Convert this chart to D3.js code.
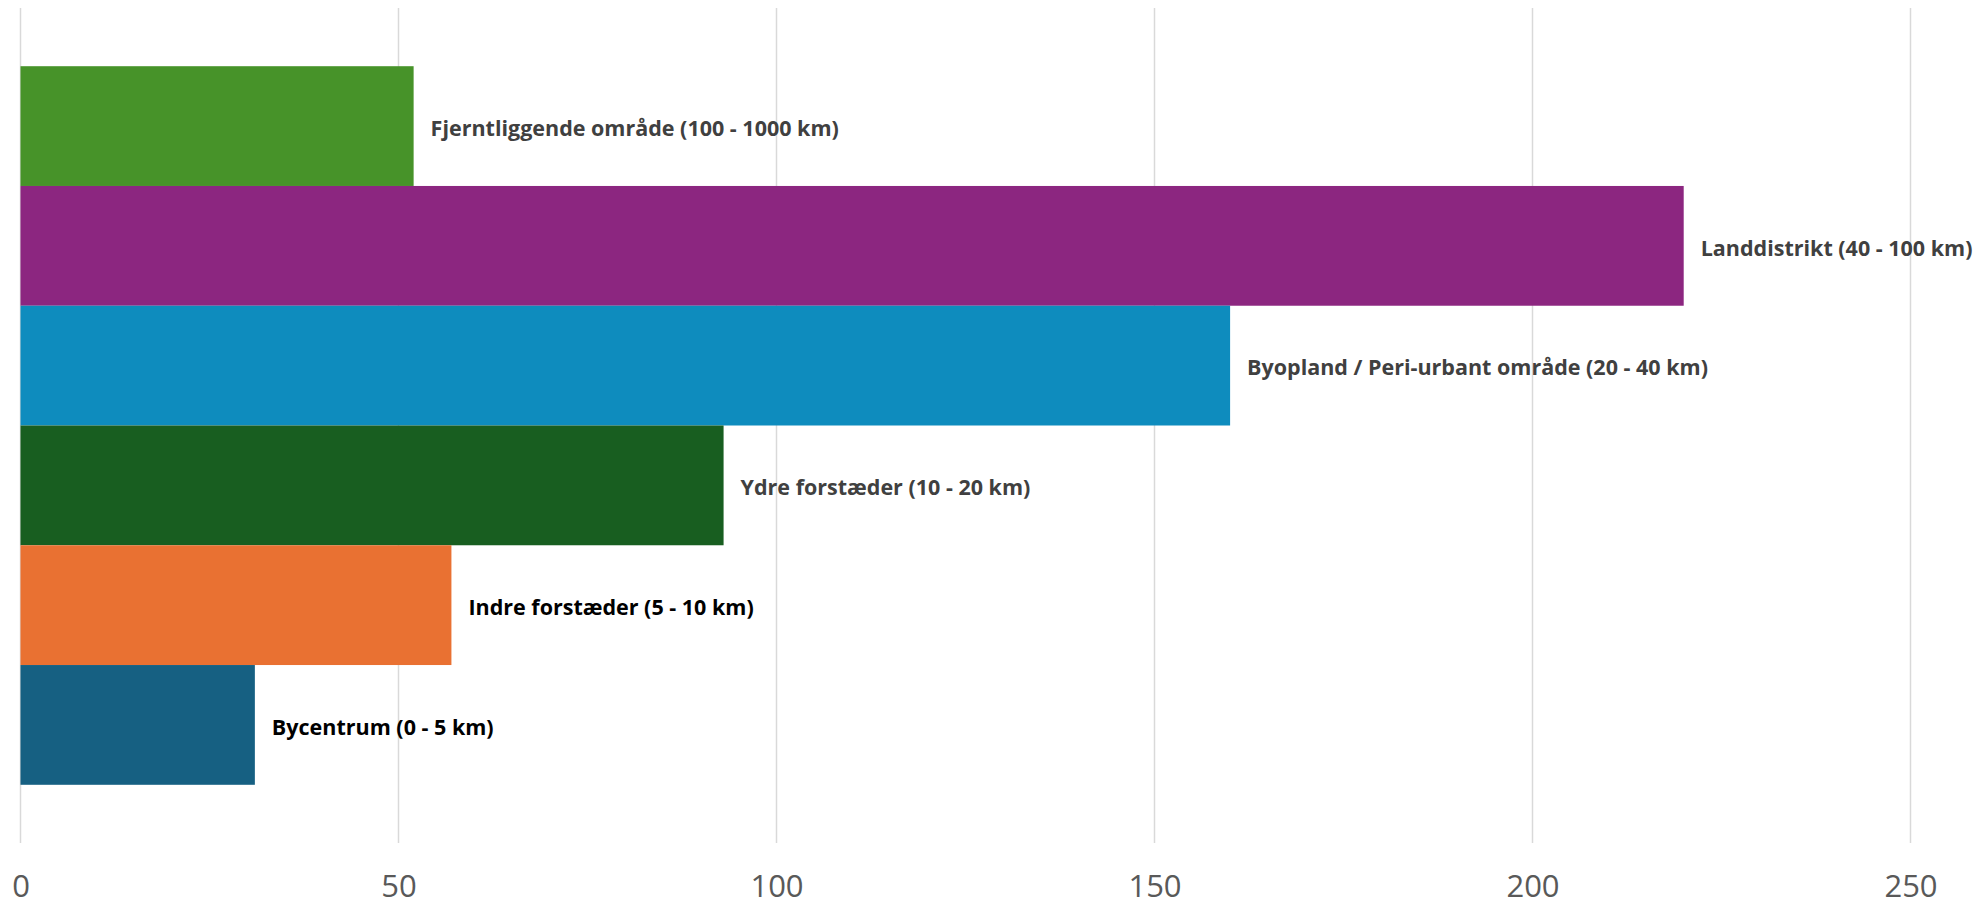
<!DOCTYPE html>
<html>
<head>
<meta charset="utf-8">
<script src="https://cdn.jsdelivr.net/npm/d3@7"></script>
<style>
  html, body { margin: 0; padding: 0; background: #ffffff; }
  svg { display: block; }
</style>
</head>
<body>
<svg id="chart" width="1988" height="906"></svg>
<script>
// Zones, listed top to bottom as drawn
const categories = [
  "Fjerntliggende område (100 - 1000 km)",
  "Landdistrikt (40 - 100 km)",
  "Byopland / Peri-urbant område (20 - 40 km)",
  "Ydre forstæder (10 - 20 km)",
  "Indre forstæder (5 - 10 km)",
  "Bycentrum (0 - 5 km)"
];
const values = [52, 220, 160, 93, 57, 31];
const barColors = ["#479329", "#8c2680", "#0e8cbe", "#185e20", "#e97132", "#166082"];
const labelColors = ["#404040", "#404040", "#404040", "#404040", "#000000", "#000000"];
const tickValues = [0, 50, 100, 150, 200, 250];

const svg = d3.select("#chart");

const x = d3.scaleLinear().domain([0, 250]).range([20.5, 1910.5]);
const y = d3.scaleBand()
  .domain(categories)
  .range([8, 843])
  .paddingInner(0)
  .paddingOuter(0.486);

// vertical gridlines
svg.append("g")
  .selectAll("line")
  .data(tickValues)
  .join("line")
  .attr("x1", d => x(d)).attr("x2", d => x(d))
  .attr("y1", 8).attr("y2", 843)
  .attr("stroke", "#d9d9d9")
  .attr("stroke-width", 1.5);

// bars
const rows = categories.map((c, i) => ({ c, v: values[i], fill: barColors[i], lc: labelColors[i] }));
svg.append("g")
  .selectAll("rect")
  .data(rows)
  .join("rect")
  .attr("x", x(0))
  .attr("y", d => y(d.c))
  .attr("width", d => x(d.v) - x(0))
  .attr("height", y.bandwidth())
  .attr("fill", d => d.fill);

// category labels next to each bar
svg.append("g")
  .selectAll("text")
  .data(rows)
  .join("text")
  .attr("x", d => x(d.v) + 17)
  .attr("y", d => y(d.c) + y.bandwidth() / 2 + 4)
  .attr("dominant-baseline", "middle")
  .attr("font-family", "'Open Sans', sans-serif")
  .attr("font-weight", 700)
  .attr("font-size", 21.5)
  .attr("fill", d => d.lc)
  .text(d => d.c);

// x axis labels
const axis = d3.axisBottom(x).tickValues(tickValues).tickSize(0).tickPadding(0);
const ax = svg.append("g")
  .attr("transform", "translate(0,878)")
  .call(axis);
ax.select(".domain").remove();
ax.selectAll("text")
  .attr("dy", null)
  .attr("y", 897 - 878)
  .attr("font-family", "'Open Sans', sans-serif")
  .attr("font-size", 31)
  .attr("fill", "#595959");
</script>
</body>
</html>
